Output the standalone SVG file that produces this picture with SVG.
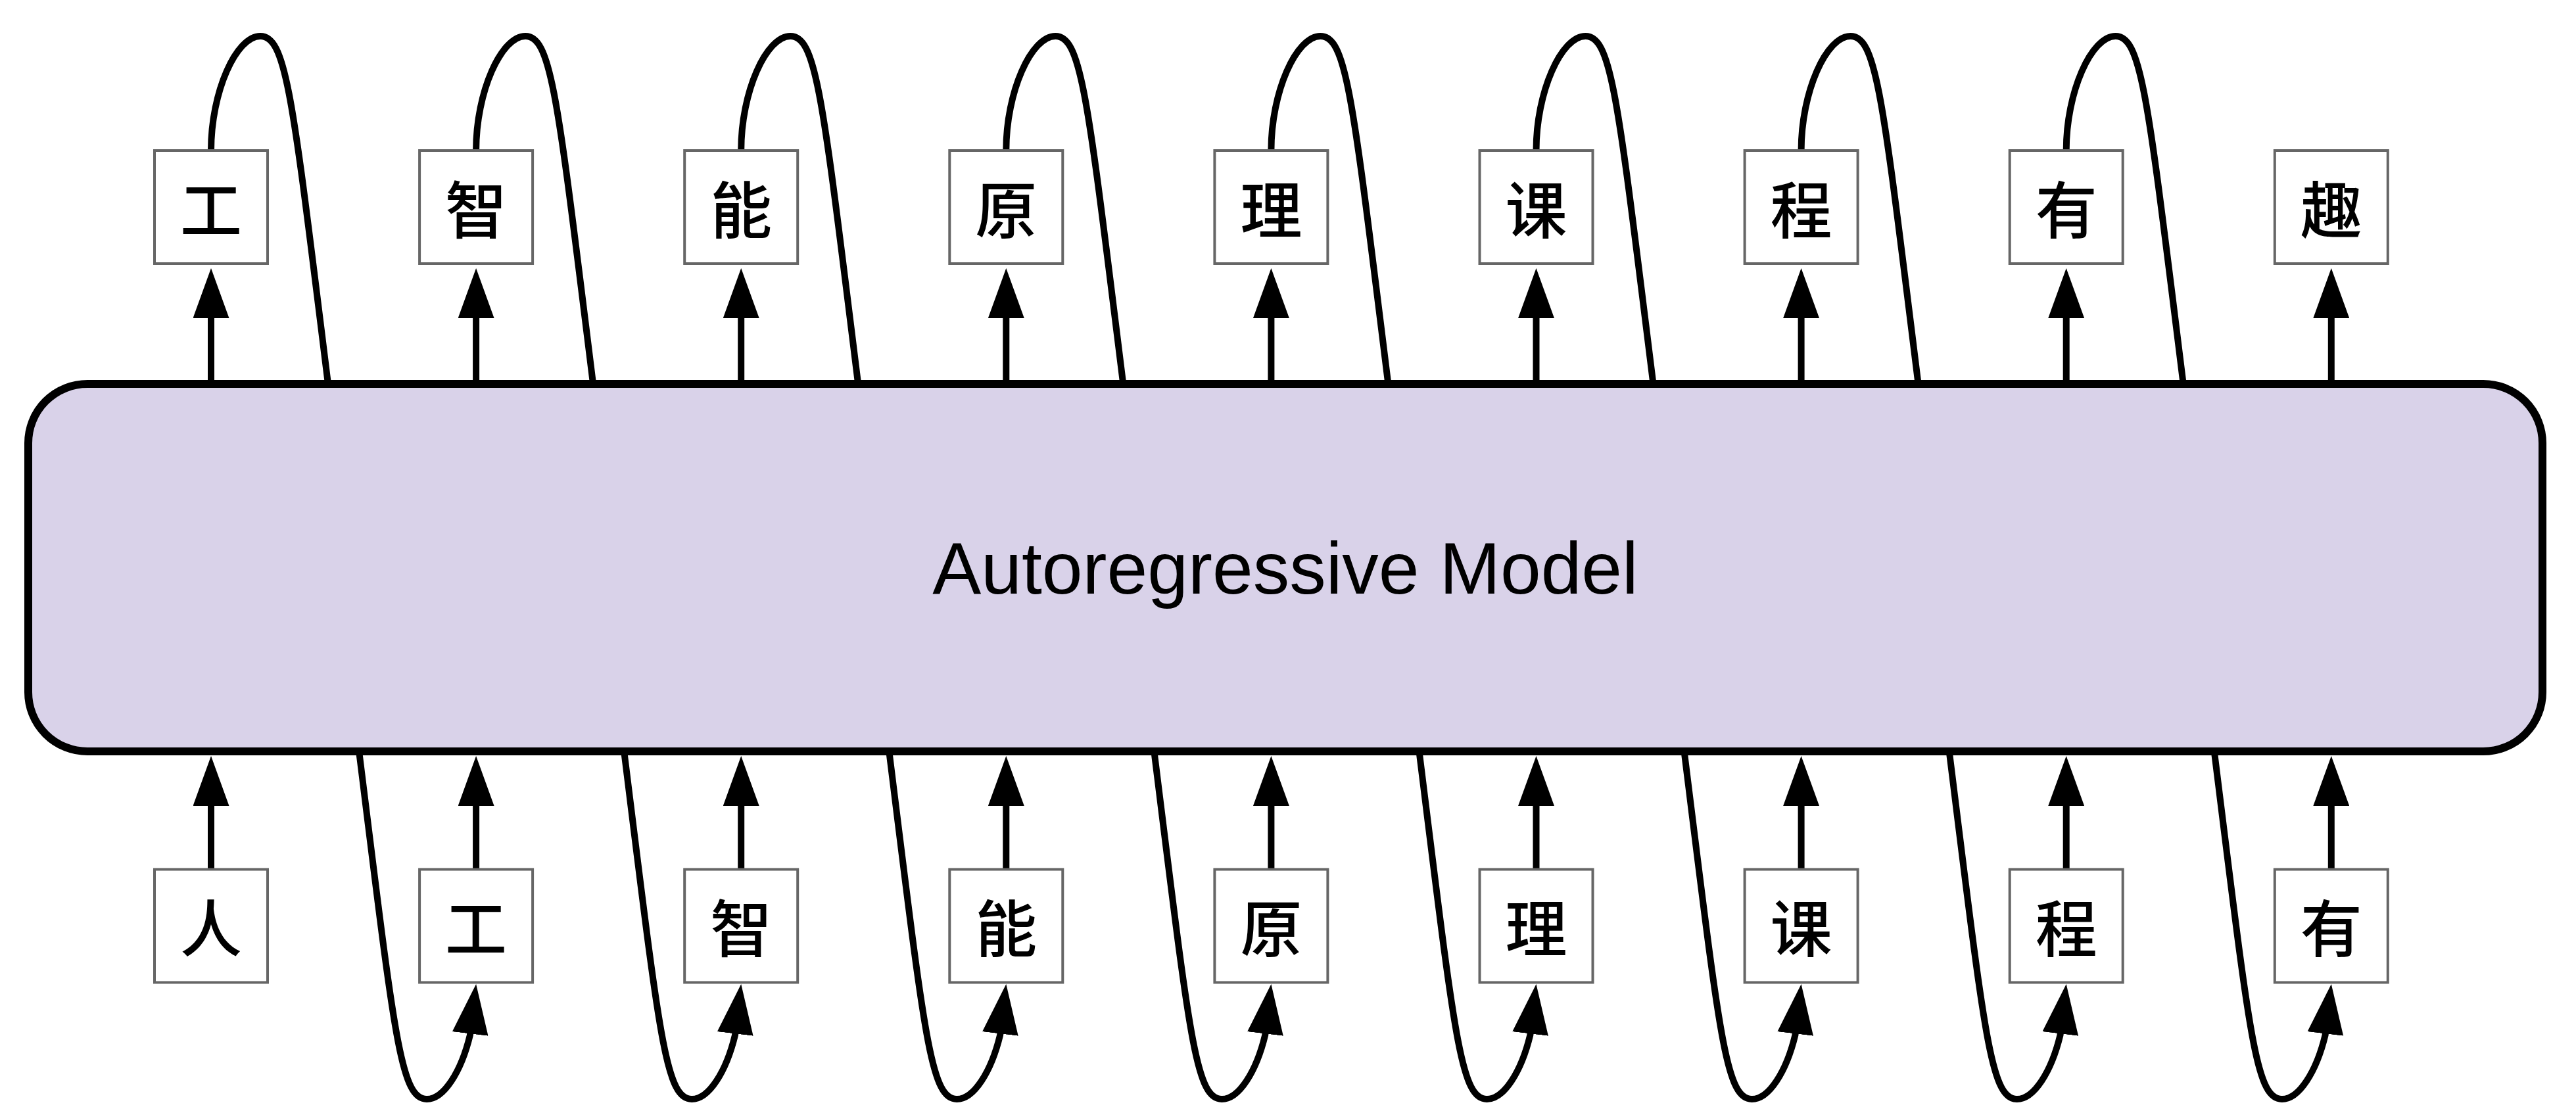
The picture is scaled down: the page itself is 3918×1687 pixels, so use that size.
<svg xmlns="http://www.w3.org/2000/svg" width="3918" height="1687" viewBox="0 0 3918 1687">
<style>
.conn{fill:none;stroke:#000;stroke-width:10}
.arr{marker-end:url(#ah)}
.box{fill:#fff;stroke:#666;stroke-width:4}
.model{fill:#d9d2e9;stroke:#000;stroke-width:12}
.tok{font-family:'Liberation Sans','Noto Sans CJK SC',sans-serif;font-size:94px;font-weight:500;fill:#000;text-anchor:middle}
.lbl{font-family:'Liberation Sans',Arial,sans-serif;font-size:111px;fill:#000;text-anchor:middle}
</style>
<defs>
<marker id="ah" markerUnits="userSpaceOnUse" markerWidth="76" markerHeight="55" viewBox="0 0 76 55" refX="36" refY="27.5" orient="auto">
<path d="M0,0 L76,27.5 L0,55 Z" fill="#000"/>
</marker>
</defs>
<rect width="3918" height="1687" fill="#fff"/>
<g id="connectors">
<path class="conn arr" d="M321,584 L321,448"/>
<path class="conn arr" d="M724.1,584 L724.1,448"/>
<path class="conn arr" d="M1127.2,584 L1127.2,448"/>
<path class="conn arr" d="M1530.3,584 L1530.3,448"/>
<path class="conn arr" d="M1933.4,584 L1933.4,448"/>
<path class="conn arr" d="M2336.5,584 L2336.5,448"/>
<path class="conn arr" d="M2739.6,584 L2739.6,448"/>
<path class="conn arr" d="M3142.7,584 L3142.7,448"/>
<path class="conn arr" d="M3545.8,584 L3545.8,448"/>
<path class="conn arr" d="M321,1322 L321,1190"/>
<path class="conn arr" d="M724.1,1322 L724.1,1190"/>
<path class="conn arr" d="M1127.2,1322 L1127.2,1190"/>
<path class="conn arr" d="M1530.3,1322 L1530.3,1190"/>
<path class="conn arr" d="M1933.4,1322 L1933.4,1190"/>
<path class="conn arr" d="M2336.5,1322 L2336.5,1190"/>
<path class="conn arr" d="M2739.6,1322 L2739.6,1190"/>
<path class="conn arr" d="M3142.7,1322 L3142.7,1190"/>
<path class="conn arr" d="M3545.8,1322 L3545.8,1190"/>
<path class="conn" d="M321,229 C321,140 359,55 396,55 C436,55 445,150 499,584"/>
<path class="conn" d="M724.1,229 C724.1,140 762.1,55 799.1,55 C839.1,55 848.1,150 902.1,584"/>
<path class="conn" d="M1127.2,229 C1127.2,140 1165.2,55 1202.2,55 C1242.2,55 1251.2,150 1305.2,584"/>
<path class="conn" d="M1530.3,229 C1530.3,140 1568.3,55 1605.3,55 C1645.3,55 1654.3,150 1708.3,584"/>
<path class="conn" d="M1933.4,229 C1933.4,140 1971.4,55 2008.4,55 C2048.4,55 2057.4,150 2111.4,584"/>
<path class="conn" d="M2336.5,229 C2336.5,140 2374.5,55 2411.5,55 C2451.5,55 2460.5,150 2514.5,584"/>
<path class="conn" d="M2739.6,229 C2739.6,140 2777.6,55 2814.6,55 C2854.6,55 2863.6,150 2917.6,584"/>
<path class="conn" d="M3142.7,229 C3142.7,140 3180.7,55 3217.7,55 C3257.7,55 3266.7,150 3320.7,584"/>
<path class="conn arr" d="M546.1,1143 C600.1,1577 609.1,1672 649.1,1672 C675,1672 701.4,1630.4 714.9,1574.6 L719.4,1536.7"/>
<path class="conn arr" d="M949.2,1143 C1003.2,1577 1012.2,1672 1052.2,1672 C1078.1,1672 1104.5,1630.4 1118,1574.6 L1122.5,1536.7"/>
<path class="conn arr" d="M1352.3,1143 C1406.3,1577 1415.3,1672 1455.3,1672 C1481.2,1672 1507.6,1630.4 1521.1,1574.6 L1525.6,1536.7"/>
<path class="conn arr" d="M1755.4,1143 C1809.4,1577 1818.4,1672 1858.4,1672 C1884.3,1672 1910.7,1630.4 1924.2,1574.6 L1928.7,1536.7"/>
<path class="conn arr" d="M2158.5,1143 C2212.5,1577 2221.5,1672 2261.5,1672 C2287.4,1672 2313.8,1630.4 2327.3,1574.6 L2331.8,1536.7"/>
<path class="conn arr" d="M2561.6,1143 C2615.6,1577 2624.6,1672 2664.6,1672 C2690.5,1672 2716.9,1630.4 2730.4,1574.6 L2734.9,1536.7"/>
<path class="conn arr" d="M2964.7,1143 C3018.7,1577 3027.7,1672 3067.7,1672 C3093.6,1672 3120,1630.4 3133.5,1574.6 L3138,1536.7"/>
<path class="conn arr" d="M3367.8,1143 C3421.8,1577 3430.8,1672 3470.8,1672 C3496.7,1672 3523.1,1630.4 3536.6,1574.6 L3541.1,1536.7"/>
</g>
<g id="model">
<rect class="model" x="43" y="584" width="3824" height="559" rx="90" ry="90"/>
<text class="lbl" x="1955" y="903">Autoregressive Model</text>
</g>
<g id="out0"><rect class="box" x="235" y="229" width="172" height="172"/><text class="tok" x="321" y="355">工</text></g>
<g id="out1"><rect class="box" x="638.1" y="229" width="172" height="172"/><text class="tok" x="724.1" y="355">智</text></g>
<g id="out2"><rect class="box" x="1041.2" y="229" width="172" height="172"/><text class="tok" x="1127.2" y="355">能</text></g>
<g id="out3"><rect class="box" x="1444.3" y="229" width="172" height="172"/><text class="tok" x="1530.3" y="355">原</text></g>
<g id="out4"><rect class="box" x="1847.4" y="229" width="172" height="172"/><text class="tok" x="1933.4" y="355">理</text></g>
<g id="out5"><rect class="box" x="2250.5" y="229" width="172" height="172"/><text class="tok" x="2336.5" y="355">课</text></g>
<g id="out6"><rect class="box" x="2653.6" y="229" width="172" height="172"/><text class="tok" x="2739.6" y="355">程</text></g>
<g id="out7"><rect class="box" x="3056.7" y="229" width="172" height="172"/><text class="tok" x="3142.7" y="355">有</text></g>
<g id="out8"><rect class="box" x="3459.8" y="229" width="172" height="172"/><text class="tok" x="3545.8" y="355">趣</text></g>
<g id="in0"><rect class="box" x="235" y="1322.5" width="172" height="172"/><text class="tok" x="321" y="1448">人</text></g>
<g id="in1"><rect class="box" x="638.1" y="1322.5" width="172" height="172"/><text class="tok" x="724.1" y="1448">工</text></g>
<g id="in2"><rect class="box" x="1041.2" y="1322.5" width="172" height="172"/><text class="tok" x="1127.2" y="1448">智</text></g>
<g id="in3"><rect class="box" x="1444.3" y="1322.5" width="172" height="172"/><text class="tok" x="1530.3" y="1448">能</text></g>
<g id="in4"><rect class="box" x="1847.4" y="1322.5" width="172" height="172"/><text class="tok" x="1933.4" y="1448">原</text></g>
<g id="in5"><rect class="box" x="2250.5" y="1322.5" width="172" height="172"/><text class="tok" x="2336.5" y="1448">理</text></g>
<g id="in6"><rect class="box" x="2653.6" y="1322.5" width="172" height="172"/><text class="tok" x="2739.6" y="1448">课</text></g>
<g id="in7"><rect class="box" x="3056.7" y="1322.5" width="172" height="172"/><text class="tok" x="3142.7" y="1448">程</text></g>
<g id="in8"><rect class="box" x="3459.8" y="1322.5" width="172" height="172"/><text class="tok" x="3545.8" y="1448">有</text></g>
</svg>
